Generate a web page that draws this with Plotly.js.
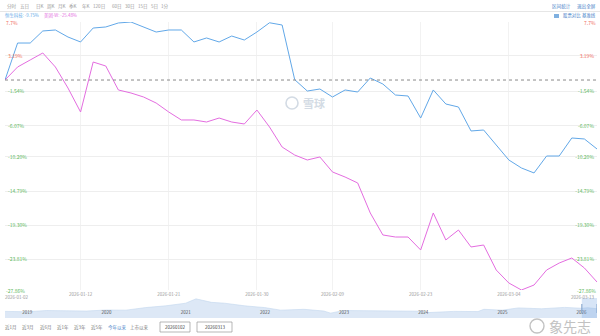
<!DOCTYPE html>
<html><head><meta charset="utf-8">
<script src="https://cdn.plot.ly/plotly-3.0.1.min.js"></script>
<style>html,body{margin:0;padding:0;background:#fff}#chart{width:600px;height:336px}</style>
</head><body><div id="chart"></div>
<script>
// ---- data ----
const dates = ['2026-01-02','2026-01-05','2026-01-06','2026-01-07','2026-01-08','2026-01-09','2026-01-12','2026-01-13','2026-01-14','2026-01-15','2026-01-16','2026-01-19','2026-01-20','2026-01-21','2026-01-22','2026-01-23','2026-01-26','2026-01-27','2026-01-28','2026-01-29','2026-01-30',
'2026-02-02','2026-02-03','2026-02-04','2026-02-05','2026-02-06','2026-02-09','2026-02-10','2026-02-11','2026-02-12','2026-02-13','2026-02-16','2026-02-20','2026-02-23','2026-02-24','2026-02-25','2026-02-26','2026-02-27',
'2026-03-02','2026-03-03','2026-03-04','2026-03-05','2026-03-06','2026-03-09','2026-03-10','2026-03-11','2026-03-12','2026-03-13'];
const hstech = [0, 4.91, 4.91, 6.51, 6.64, 5.71, 5.05, 6.90, 7.04, 7.57, 7.70, 7.04, 6.37, 6.64, 6.64, 5.05, 5.58, 5.05, 5.84, 5.31, 6.37, 7.60, 7.30, 0.05, -1.46, -1.19, -2.25, -1.32, -1.59, 0.27, -0.53, -1.99, -2.12, -5.04, -1.32, -3.18, -3.58, -6.76, -6.63, -8.62, -10.61, -11.67, -12.33, -10.08, -10.08, -7.69, -7.82, -9.15];
const meituan = [0, 1.73, 2.66, 3.59, 1.73, -1.06, -4.24, 2.39, 1.86, -1.32, -1.72, -2.25, -3.05, -4.24, -5.30, -5.30, -5.57, -5.04, -5.57, -5.83, -3.98, -6.23, -8.89, -9.95, -10.61, -10.21, -12.20, -12.87, -13.66, -17.64, -20.56, -20.83, -20.83, -22.55, -17.64, -21.22, -19.90, -22.15, -21.89, -25.21, -26.93, -27.86, -27.20, -25.21, -24.28, -23.61, -24.94, -26.80];
const seriesNames = ['恒生科技', '美团-W'];
const seriesLegendValues = ['-9.75%', '-25.48%'];
const yTickVals = [7.7, 3.19, -1.54, -6.07, -10.20, -14.79, -19.30, -23.81, -27.86];
const yTickText = ['7.7%', '3.19%', '-1.54%', '-6.07%', '-10.20%', '-14.79%', '-19.30%', '-23.81%', '-27.86%'];
const xTickDates = ['2026-01-12', '2026-01-21', '2026-01-30', '2026-02-09', '2026-02-23', '2026-03-04'];
const navDates = ['2018-09-20','2018-12-31','2019-03-31','2019-06-30','2019-09-30','2019-12-31','2020-03-31','2020-06-30','2020-09-30','2020-12-31','2021-02-17','2021-04-30','2021-06-30','2021-09-30','2021-12-31','2022-03-15','2022-06-30','2022-09-30','2022-10-31','2022-12-31','2023-03-31','2023-06-30','2023-09-30','2023-12-31','2024-01-22','2024-05-20','2024-09-10','2024-10-07','2024-12-31','2025-03-15','2025-06-30','2025-09-30','2025-10-15','2025-12-31','2026-01-30','2026-03-13'];
const navValues = [3800, 3600, 4300, 4100, 4000, 4600, 4500, 6000, 7000, 8500, 11000, 9000, 8500, 7000, 6000, 4500, 5000, 4000, 2800, 4300, 4200, 4000, 3900, 3900, 3100, 3800, 3700, 5000, 4500, 5800, 5300, 6200, 6100, 5600, 5900, 5300];
const navYears = ['2019','2020','2021','2022','2023','2024','2025','2026'];
const toolbarItems = ['分时','五日','日K','周K','月K','季K','年K','120日','60日','30日','15日','5日','1分'];
const rangeButtons = ['近1月','近3月','近6月','近1年','近3年','近5年','今年以来','上市以来'];
const rangeInputs = ['20260102', '20260313'];

// ---- layout helpers (pixel -> paper) ----
const W = 600, H = 336, ML = 5, MR = 3, MT = 22, MB = 14;
const PW = W - ML - MR, PH = H - MT - MB;
const px = x => (x - ML) / PW;
const py = y => (H - MB - y) / PH;
const FONT = '"Noto Sans CJK SC", "Noto Sans", sans-serif';
const BLUE = '#62a8e8', PINK = '#e46de0';
const RED = '#ef6b5b', GREEN = '#5cb85c';
const mainDomain = [py(290), 1];
const navDomain = [py(318), py(298)];
const yColor = v => (v >= 0 ? RED : GREEN);
const colored = yTickText.map((t, i) => `<span style="color:${yColor(yTickVals[i])}">${t}</span>`);

const traces = [
  {x: dates, y: hstech, type: 'scatter', mode: 'lines', line: {color: BLUE, width: 1}, xaxis: 'x', yaxis: 'y', hoverinfo: 'skip', cliponaxis: false},
  {x: dates, y: meituan, type: 'scatter', mode: 'lines', line: {color: PINK, width: 1}, xaxis: 'x', yaxis: 'y2', hoverinfo: 'skip', cliponaxis: false},
  {x: navDates, y: navValues, type: 'scatter', mode: 'lines', fill: 'tozeroy', fillcolor: '#dde8f6', line: {color: '#c3d6ee', width: 0.6}, xaxis: 'x3', yaxis: 'y3', hoverinfo: 'skip'}
];

const annotations = [];
const ann = (x, y, text, color, size, anchor, extra) => annotations.push(Object.assign({
  xref: 'paper', yref: 'paper', x: px(x), y: py(y), text: text, showarrow: false,
  xanchor: anchor || 'center', yanchor: 'middle', font: {family: FONT, size: size, color: color}
}, extra || {}));

// toolbar
const toolbarX = [11.5, 24, 40, 50.5, 61.5, 73, 86, 99, 116.5, 129.5, 143, 154, 164.5];
toolbarItems.forEach((t, i) => ann(toolbarX[i], 7, t, '#9a9a9a', 4.6));
ann(561, 7, '区间统计', '#3f80c8', 4.6);
ann(586, 7, '退出全屏', '#3f80c8', 4.6);
// legend
ann(3, 15.5, `${seriesNames[0]}: ${seriesLegendValues[0]}`, BLUE, 4.4, 'left');
ann(42, 15.5, `${seriesNames[1]}: ${seriesLegendValues[1]}`, PINK, 4.4, 'left');
ann(571.5, 16, '股票对比', '#3f80c8', 4.4);
ann(588.5, 16, '基准线', '#3f80c8', 4.4);
// y labels at the domain edges (Plotly hides inside labels there)
[0, yTickVals.length - 1].forEach(i => {
  const base = {yref: 'y', y: yTickVals[i], text: yTickText[i], showarrow: false, yanchor: 'middle',
    font: {family: FONT, size: 5, color: yColor(yTickVals[i])}};
  annotations.push(Object.assign({xref: 'paper', x: 0, xanchor: 'left', xshift: -1}, base));
  annotations.push(Object.assign({xref: 'paper', x: 1, xanchor: 'right', xshift: 1}, base));
});
// endpoint date labels
annotations.push({xref: 'x', yref: 'paper', x: dates[0], y: py(296.5), text: dates[0], showarrow: false, xanchor: 'left', yanchor: 'middle', xshift: -2, font: {family: FONT, size: 4.5, color: '#999'}});
annotations.push({xref: 'x', yref: 'paper', x: dates[dates.length - 1], y: py(296.5), text: dates[dates.length - 1], showarrow: false, xanchor: 'right', yanchor: 'middle', font: {family: FONT, size: 4.5, color: '#999'}});
// watermark
ann(314, 103, '<b>雪球</b>', '#d3dbe4', 11);
// range buttons
const rangeX = [11, 28, 45.5, 63, 80, 97, 117, 139];
rangeButtons.forEach((t, i) => ann(rangeX[i], 327, t, i === 6 ? '#3f80c8' : '#777', 4.5));
ann(175, 327, rangeInputs[0], '#444', 4.5);
ann(214.5, 327, rangeInputs[1], '#444', 4.5);
// weibo watermark
ann(570, 326, '象先志', '#c2c2c2', 14);

const shapes = [
  {type: 'line', xref: 'paper', yref: 'paper', x0: px(0), x1: px(600), y0: py(11.5), y1: py(11.5), line: {color: '#e6e6e6', width: 1}},
  {type: 'line', xref: 'paper', yref: 'y', x0: 0, x1: 1, y0: 0, y1: 0, line: {color: '#8a8a8a', width: 1, dash: 'dot'}},
  {type: 'rect', xref: 'paper', yref: 'paper', x0: px(554), x1: px(559), y0: py(18), y1: py(14), line: {width: 0}, fillcolor: '#7fb0e0'},
  {type: 'circle', xref: 'paper', yref: 'paper', x0: px(286), x1: px(298), y0: py(109), y1: py(97), line: {color: '#d3dbe4', width: 1.6}},
  {type: 'rect', xref: 'x3', yref: 'paper', x0: dates[0], x1: dates[dates.length - 1], y0: navDomain[0], y1: navDomain[1], line: {width: 0}, fillcolor: 'rgba(110,160,225,0.28)'},
  {type: 'line', xref: 'x3', yref: 'paper', x0: dates[0], x1: dates[0], y0: py(313), y1: py(304), line: {color: '#7d9fc8', width: 1}},
  {type: 'line', xref: 'x3', yref: 'paper', x0: dates[dates.length - 1], x1: dates[dates.length - 1], y0: py(313), y1: py(304), line: {color: '#7d9fc8', width: 1}},
  {type: 'rect', xref: 'paper', yref: 'paper', x0: px(160), x1: px(190), y0: py(332), y1: py(322), line: {color: '#9a9a9a', width: 0.7}},
  {type: 'rect', xref: 'paper', yref: 'paper', x0: px(197), x1: px(232), y0: py(332), y1: py(322), line: {color: '#9a9a9a', width: 0.7}},
  {type: 'circle', xref: 'paper', yref: 'paper', x0: px(530), x1: px(544), y0: py(333), y1: py(319), line: {color: '#c2c2c2', width: 1.4}}
];

const layout = {
  width: W, height: H, margin: {l: ML, r: MR, t: MT, b: MB},
  paper_bgcolor: '#fff', plot_bgcolor: '#fff', showlegend: false,
  font: {family: FONT, size: 5, color: '#999'},
  xaxis: {type: 'category', domain: [0, 1], anchor: 'y', range: [0, dates.length - 1],
    tickvals: xTickDates, ticktext: xTickDates, showgrid: true, gridcolor: '#f2f2f2', gridwidth: 1,
    zeroline: false, showline: false, ticks: '', tickfont: {size: 4.5, color: '#999'}},
  yaxis: {domain: mainDomain, anchor: 'x', range: [-27.86, 7.7], tickvals: yTickVals, ticktext: colored,
    ticklabelposition: 'inside', ticks: '', showgrid: true, gridcolor: '#eeeeee', zeroline: false, showline: false,
    tickfont: {size: 5}},
  yaxis2: {overlaying: 'y', side: 'right', anchor: 'x', range: [-27.86, 7.7], tickvals: yTickVals, ticktext: colored,
    ticklabelposition: 'inside', ticks: '', showgrid: false, zeroline: false, showline: false, tickfont: {size: 5}},
  xaxis3: {type: 'date', domain: [0, 1], anchor: 'y3', range: [navDates[0], navDates[navDates.length - 1]],
    tickvals: navYears.map(y => y + '-01-01'), ticktext: navYears, ticklabelposition: 'inside', ticks: '',
    showgrid: false, zeroline: false, showline: false, tickfont: {size: 4.5, color: '#555'}},
  yaxis3: {domain: navDomain, anchor: 'x3', range: [0, 11500], visible: false},
  annotations: annotations, shapes: shapes
};

Plotly.newPlot('chart', traces, layout, {staticPlot: true, displayModeBar: false});
</script></body></html>
